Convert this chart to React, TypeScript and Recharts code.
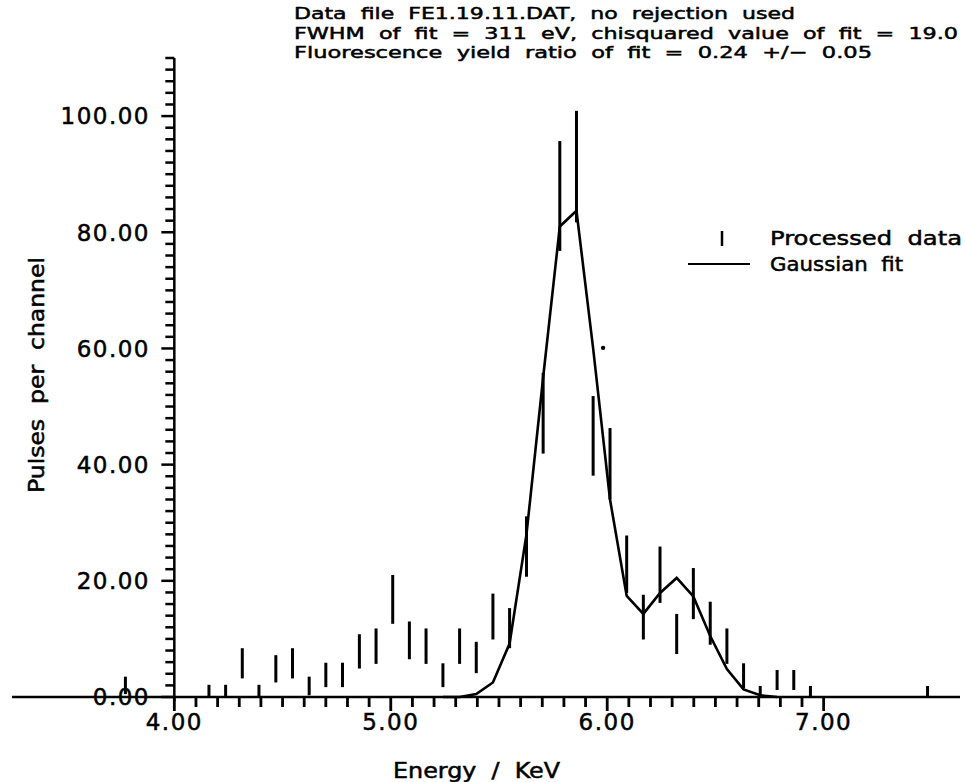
import { ComposedChart, Scatter, ErrorBar, XAxis, YAxis, ReferenceLine } from 'recharts';

// channel energies (KeV) of the processed data
const ENERGY = [
  3.774, 4.160, 4.237, 4.314, 4.391, 4.469, 4.546, 4.623, 4.700, 4.777,
  4.855, 4.932, 5.009, 5.086, 5.163, 5.241, 5.318, 5.395, 5.472, 5.549,
  5.627, 5.704, 5.781, 5.858, 5.935, 6.013, 6.090, 6.167, 6.244, 6.321,
  6.398, 6.476, 6.553, 6.630, 6.707, 6.785, 6.862, 6.939, 7.480,
];
// lower / upper ends of each error bar (pulses per channel)
const LOW = [
  0.5, 0, 0, 3.2, 0, 2.5, 3.2, 0.3, 1.7, 1.7,
  4.9, 5.7, 12.6, 6.5, 5.7, 1.7, 5.7, 4.1, 9.9, 8.4,
  20.7, 41.9, 76.8, 81.7, 38.1, 34.0, 17.9, 9.9, 16.2, 7.4,
  13.4, 9.0, 5.7, 1.5, 0, 1.2, 1.2, 0, 0,
];
const HIGH = [
  3.5, 2.1, 2.1, 8.4, 2.1, 7.2, 8.4, 3.5, 5.9, 5.9,
  10.8, 11.8, 21.0, 13.0, 11.8, 5.8, 11.8, 9.5, 17.8, 15.3,
  31.1, 55.8, 95.7, 100.9, 51.8, 46.3, 27.8, 17.6, 25.9, 14.3,
  22.2, 16.4, 11.8, 5.8, 1.9, 4.65, 4.65, 1.9, 1.9,
];

// gaussian fit
const FIT_ENERGY = [
  5.241, 5.318, 5.395, 5.472, 5.549, 5.627, 5.704, 5.781, 5.858, 5.935,
  6.013, 6.090, 6.167, 6.244, 6.321, 6.398, 6.476, 6.553, 6.630, 6.707, 6.785,
];
const FIT = [
  0, 0, 0.5, 2.5, 9.2, 28, 55, 81, 83.7, 60,
  34, 17.4, 14.3, 17.9, 20.5, 17.3, 10.5, 4.8, 1.3, 0.3, 0,
];

// stray plotter dot
const STRAY = [{ energy: 5.981, count: 60.1 }];

const X_MAJOR = [4, 5, 6, 7];
const Y_MAJOR = [0, 20, 40, 60, 80, 100];
const X_TICKS: number[] = [];
for (let i = 0; i <= 30; i++) X_TICKS.push(Math.round((4 + i / 10) * 10) / 10);
const Y_TICKS: number[] = [];
for (let v = 0; v <= 110; v += 2) Y_TICKS.push(v);

const TITLE = [
  'Data  file  FE1.19.11.DAT,  no  rejection  used',
  'FWHM  of  fit  =  311  eV,  chisquared  value  of  fit  =  19.0',
  'Fluorescence  yield  ratio  of  fit  =  0.24  +/−  0.05',
];

const W = 965;
const H = 782;
const X_AXIS_H = 85;
const MARGIN = { top: 58, right: 5, left: 11, bottom: 0 };
const Y_AXIS_W = 1;
const X_DOMAIN = [3.25, 7.63];
const Y_DOMAIN = [0, 110];
const PLOT_L = MARGIN.left + Y_AXIS_W;
const PLOT_W = W - PLOT_L - MARGIN.right;
const PLOT_B = H - MARGIN.bottom - X_AXIS_H;
const xPix = (e: number) => PLOT_L + ((e - X_DOMAIN[0]) / (X_DOMAIN[1] - X_DOMAIN[0])) * PLOT_W;
const AXIS_X = xPix(4);

const FONT = '"DejaVu Sans", sans-serif';
const INK = { fill: '#000', stroke: '#000', strokeWidth: 0.5 };

const measured = ENERGY.map((e, i) => ({
  energy: e,
  count: (LOW[i] + HIGH[i]) / 2,
  err: (HIGH[i] - LOW[i]) / 2,
}));
const fit = FIT_ENERGY.map((e, i) => ({ energy: e, count: FIT[i] }));

const Empty = () => <g />;
const Dot = (p: any) => <circle cx={p.cx} cy={p.cy} r={2.2} fill="#000" />;

const renderXTick = (p: any) => {
  const v = p.payload.value;
  if (!X_MAJOR.includes(v)) return <g key={`xt-${v}`} />;
  return (
    <text key={`xt-${v}`} x={Number(p.x)} y={Number(p.y) + 33} textAnchor="middle" fontFamily={FONT} fontSize={23} letterSpacing={1.5} {...INK}>
      {v.toFixed(2)}
    </text>
  );
};

const renderYTick = (p: any) => {
  const v = p.payload.value;
  const major = Y_MAJOR.includes(v);
  const y = Number(p.y);
  return (
    <g key={`yt-${v}`}>
      <path d={`M${AXIS_X - (major ? 13 : 9)},${y}H${AXIS_X}`} stroke="#000" strokeWidth={2.5} fill="none" />
      {major && (
        <text x={150} y={y} dy="0.36em" textAnchor="end" fontFamily={FONT} fontSize={23} letterSpacing={1.5} {...INK}>
          {v.toFixed(2)}
        </text>
      )}
    </g>
  );
};

export default function App() {
  return (
    <div style={{ position: 'absolute', left: 0, top: 0, width: W, height: H, background: '#fff' }}>
      <ComposedChart width={W} height={H} margin={MARGIN}>
        <XAxis
          type="number"
          dataKey="energy"
          domain={X_DOMAIN}
          ticks={X_TICKS}
          interval={0}
          height={X_AXIS_H}
          tickSize={0}
          tickMargin={0}
          tickLine={false}
          axisLine={{ stroke: '#000', strokeWidth: 2.5 }}
          tick={renderXTick}
        />
        <YAxis
          type="number"
          dataKey="count"
          domain={Y_DOMAIN}
          ticks={Y_TICKS}
          interval={0}
          width={Y_AXIS_W}
          tickSize={0}
          tickMargin={0}
          tickLine={false}
          axisLine={false}
          tick={renderYTick}
        />
        <ReferenceLine x={4} stroke="#000" strokeWidth={2.5} />
        <Scatter data={measured} shape={<Empty />} isAnimationActive={false}>
          <ErrorBar dataKey="err" direction="y" width={0} stroke="#000" strokeWidth={3} />
        </Scatter>
        <Scatter
          data={fit}
          shape={<Empty />}
          line={{ stroke: '#000', strokeWidth: 2.6 }}
          isAnimationActive={false}
        />
        <Scatter data={STRAY} shape={<Dot />} isAnimationActive={false} />
      </ComposedChart>
      <svg
        width={W}
        height={H}
        style={{ position: 'absolute', left: 0, top: 0, pointerEvents: 'none' }}
        fontFamily={FONT}
      >
        {/* x-axis tick stubs below the axis line */}
        {X_TICKS.map((t) => (
          <rect
            key={t}
            x={xPix(t) - 1.4}
            y={PLOT_B}
            width={2.8}
            height={X_MAJOR.includes(t) ? 14 : 10}
            fill="#000"
          />
        ))}
        <rect x={AXIS_X - 1.25} y={PLOT_B} width={2.5} height={4} fill="#000" />

        <text x={294} y={19} fontSize={16.5} textLength={501} lengthAdjust="spacingAndGlyphs" style={{ whiteSpace: 'pre' }} {...INK}>{TITLE[0]}</text>
        <text x={294} y={38.5} fontSize={16.5} textLength={664} lengthAdjust="spacingAndGlyphs" style={{ whiteSpace: 'pre' }} {...INK}>{TITLE[1]}</text>
        <text x={294} y={58} fontSize={16.5} textLength={578} lengthAdjust="spacingAndGlyphs" style={{ whiteSpace: 'pre' }} {...INK}>{TITLE[2]}</text>

        <path d="M722,231V246" stroke="#000" strokeWidth={2.5} />
        <text x={770} y={245} fontSize={20} textLength={192} lengthAdjust="spacingAndGlyphs" style={{ whiteSpace: 'pre' }} {...INK}>Processed  data</text>
        <path d="M688,264H750" stroke="#000" strokeWidth={2} />
        <text x={770} y={271} fontSize={20} textLength={133} lengthAdjust="spacingAndGlyphs" style={{ whiteSpace: 'pre' }} {...INK}>Gaussian  fit</text>

        <text x={393} y={778} fontSize={21} textLength={167} lengthAdjust="spacingAndGlyphs" style={{ whiteSpace: 'pre' }} {...INK}>Energy  /  KeV</text>
        <text
          x={0}
          y={0}
          fontSize={21}
          textLength={236}
          lengthAdjust="spacingAndGlyphs"
          transform="translate(44 493) rotate(-90)"
          style={{ whiteSpace: 'pre' }}
          {...INK}
        >
          Pulses  per  channel
        </text>
      </svg>
    </div>
  );
}
